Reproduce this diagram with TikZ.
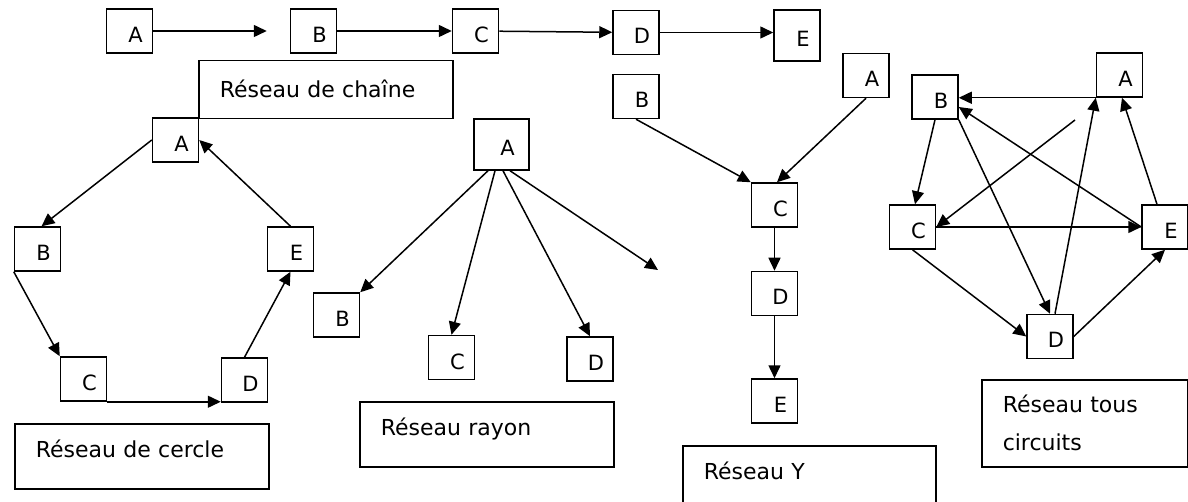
\documentclass[tikz,border=0pt]{standalone}
\usepackage{fontspec}
\setmainfont{DejaVu Sans}
\usetikzlibrary{arrows.meta}

\begin{document}
\begin{tikzpicture}[
  x=1pt, y=-1pt,
  box/.style={draw, line width=1.5pt, minimum width=46pt, minimum height=44pt, inner sep=0pt, text height=23pt, text depth=0pt, font=\fontsize{21}{25}\selectfont, execute at begin node={\hspace*{12pt}}},
  lbl/.style={draw, line width=1.5pt, anchor=north west, align=left, inner xsep=21pt, inner ysep=0pt, text width=212pt, font=\fontsize{22}{38}\selectfont},
  arr/.style={-{Triangle[length=13pt, width=12pt]}, line width=1.5pt}
]
\clip (0,0) rectangle (1188,502);

\node[box] (chA) at (129.5,31) {A};
\node[box] (chB) at (313.5,31) {B};
\node[box] (chC) at (475.5,31) {C};
\node[box] (chD) at (636,32.5) {D};
\node[box, minimum height=51pt] (chE) at (797,35.5) {E};
\node[lbl, minimum height=58pt, text height=16pt, text depth=0pt] (chLbl) at (198,60) {Réseau de chaîne};

\node[box] (ciA) at (175.5,140) {A};
\node[box] (ciB) at (37.5,249) {B};
\node[box] (ciE) at (290.5,249) {E};
\node[box] (ciC) at (83.5,379) {C};
\node[box] (ciD) at (244.5,380) {D};
\node[lbl, minimum height=65pt, text height=16pt, text depth=14pt] (ciLbl) at (14,423) {Réseau de cercle};

\node[box, minimum width=55pt, minimum height=51pt] (raA) at (501.5,144.5) {A};
\node[box] (raB) at (336.5,315) {B};
\node[box] (raC) at (451.5,357.5) {C};
\node[box] (raD) at (590,359) {D};
\coordinate (raX) at (658,270);
\node[lbl, minimum height=65pt, text height=16pt, text depth=14pt] (raLbl) at (359,401) {Réseau rayon};

\node[box] (yB) at (636,96.5) {B};
\node[box] (yA) at (866,75.5) {A};
\node[box] (yC) at (774.5,205) {C};
\node[box] (yD) at (774.5,293.5) {D};
\node[box] (yE) at (774.5,401) {E};
\node[lbl, minimum height=66pt, text width=211pt, text height=16pt, text depth=14pt] (yLbl) at (682,445) {Réseau Y};

\node[box] (tcB) at (935,97) {B};
\node[box] (tcA) at (1119.5,75) {A};
\node[box] (tcC) at (912.5,227) {C};
\node[box] (tcE) at (1165,227) {E};
\node[box] (tcD) at (1050,336.5) {D};
\coordinate (tcX) at (1075,120);
\node[lbl, minimum height=87pt, text width=164pt] (tcLbl) at (981,379) {Réseau tous\\circuits};

\draw[arr, shorten >=23pt] (chA) -- (chB);
\draw[arr] (chB) -- (chC);
\draw[arr] (chC) -- (chD);
\draw[arr] (chD.east) -- (chD.east -| chE.west);

\draw[arr] (ciA.west) -- ([xshift=4pt]ciB.north);
\draw[arr] (ciB.south west) -- (ciC.north west);
\draw[arr] (ciC.south east) -- (ciC.south east -| ciD.west);
\draw[arr] (ciD.north) -- (ciE.south);
\draw[arr] (ciE.north) -- (ciA.east);

\draw[arr] ([xshift=-13.5pt]raA.south) -- (raB.north east);
\draw[arr] ([xshift=-6.5pt]raA.south) -- (raC.north);
\draw[arr] ([xshift=1.5pt]raA.south) -- (raD.north);
\draw[arr] ([xshift=8.5pt]raA.south) -- (raX);

\draw[arr] (yB.south) -- (yC.north west);
\draw[arr] (yA.south) -- ([xshift=2.5pt]yC.north);
\draw[arr] (yC) -- (yD);
\draw[arr] (yD) -- (yE);

\draw[arr] (tcA.south west) -- (tcA.south west -| tcB.east);
\draw[arr] (tcE.west) -- ([yshift=-10pt]tcB.east);
\draw[arr] (tcB.south) -- ([xshift=2.5pt]tcC.north);
\draw[arr] (tcB.south east) -- (tcD.north);
\draw[arr] (tcX) -- (tcC.east);
\draw[arr] (tcC.east) -- (tcE.west);
\draw[arr] ([xshift=5pt]tcD.north) -- (tcA.south west);
\draw[arr] ([xshift=-8pt]tcE.north) -- ([xshift=2.5pt]tcA.south);
\draw[arr] (tcC.south) -- (tcD.west);
\draw[arr] (tcD.east) -- (tcE.south);
\end{tikzpicture}
\end{document}
